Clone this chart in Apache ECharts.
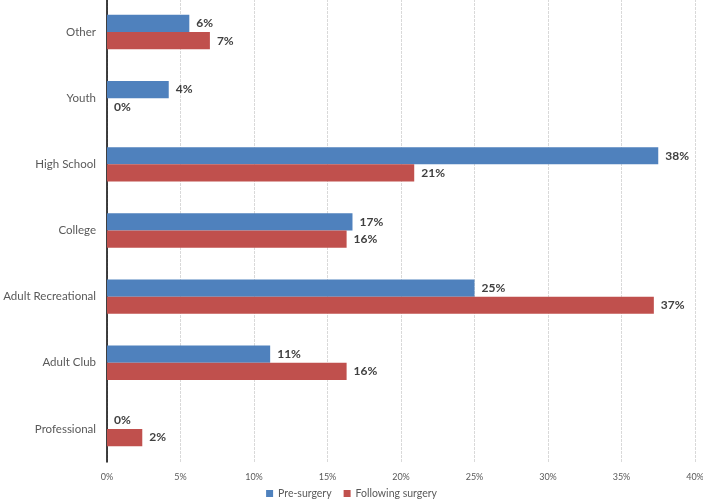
<!DOCTYPE html>
<html><head><meta charset="utf-8">
<script src="https://cdn.jsdelivr.net/npm/echarts@6/dist/echarts.min.js"></script>
<style>html,body{margin:0;padding:0;background:#fff}#c{width:703px;height:502px}</style>
</head><body><div id="c"></div>
<script>
var categories = ['Other','Youth','High School','College','Adult Recreational','Adult Club','Professional'];
var preSurgery = [5.6, 4.2, 37.5, 16.7, 25.0, 11.1, 0];
var followingSurgery = [7.0, 0, 20.9, 16.3, 37.2, 16.3, 2.4];
var seriesNames = ['Pre-surgery','Following surgery'];
var FONT = 'Lato, "Open Sans", sans-serif';
var chart = echarts.init(document.getElementById('c'));
var lbl = {show:true, position:'right', distance:7, color:'#404040', fontWeight:'bold', fontSize:12, fontFamily:FONT,
  formatter:function(p){return Math.round(p.value)+'%';}};
chart.setOption({
  animation:false,
  textStyle:{fontFamily:FONT},
  grid:{left:107, right:8, top:-1, bottom:40, containLabel:false, outerBoundsMode:'none'},
  legend:{bottom:-2, left:'center', itemWidth:7, itemHeight:7, itemGap:12, itemStyle:{borderWidth:0}, icon:'rect',
    textStyle:{fontSize:10.5, color:'#595959', fontFamily:FONT}, data:seriesNames},
  xAxis:{type:'value', min:0, max:40, interval:5,
    axisLabel:{formatter:'{value}%', fontSize:9, color:'#595959', margin:11},
    axisLine:{show:false}, axisTick:{show:false},
    splitLine:{lineStyle:{color:'#d9d9d9', type:[3,1]}}},
  yAxis:{type:'category', data:categories, inverse:true,
    axisLine:{lineStyle:{color:'#000', width:1.5}}, axisTick:{show:false},
    axisLabel:{fontSize:11.5, color:'#595959', margin:11}},
  series:[
    {name:seriesNames[0], type:'bar', data:preSurgery, itemStyle:{color:'#4f81bd'}, barGap:'0%', barCategoryGap:'48%', label:lbl},
    {name:seriesNames[1], type:'bar', data:followingSurgery, itemStyle:{color:'#c0504d'}, label:lbl}
  ]
});
</script></body></html>
